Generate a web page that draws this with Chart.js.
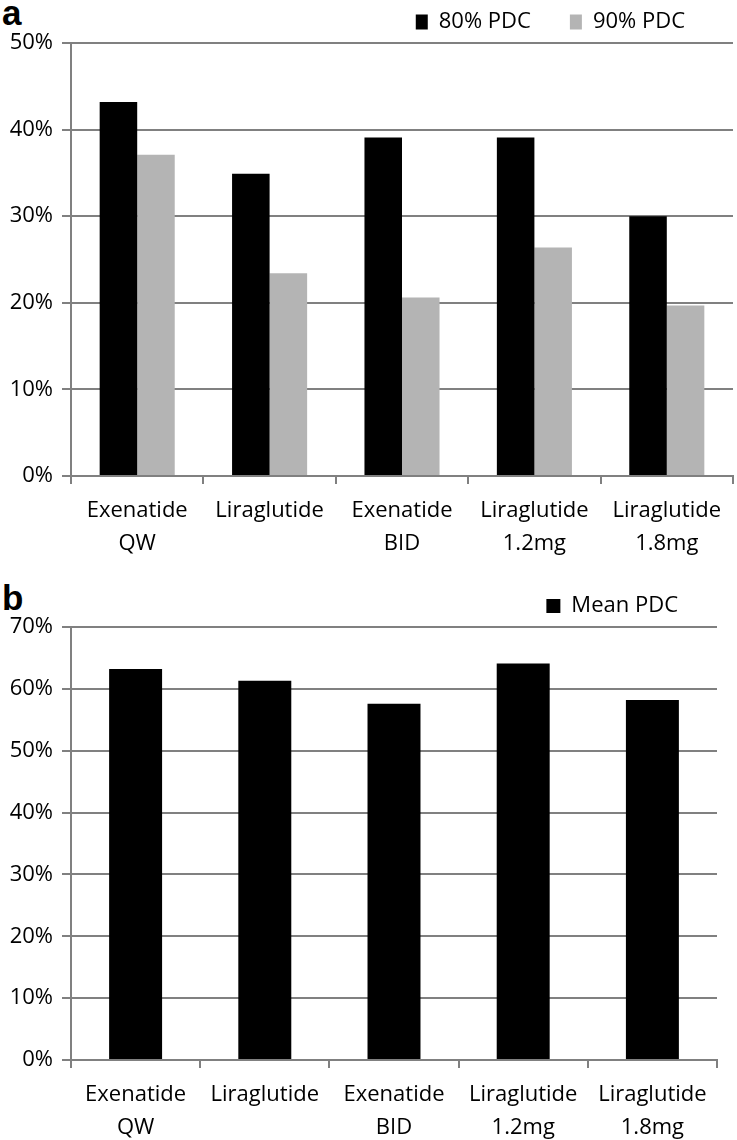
<!DOCTYPE html>
<html>
<head>
<meta charset="utf-8">
<script src="https://cdn.jsdelivr.net/npm/chart.js@4/dist/chart.umd.min.js"></script>
<style>
  html, body { margin: 0; padding: 0; background: #fff; overflow: hidden; }
  body { width: 737px; height: 1140px; position: relative; }
  .panel { position: absolute; left: 0; }
  .letter {
    position: absolute; left: 2px;
    font: bold 35px "Liberation Sans", Arial, sans-serif;
    line-height: 35px; color: #000;
  }
</style>
</head>
<body>
<div class="letter" style="top:-5px">a</div>
<div class="panel" style="top:0"><canvas id="chartA" width="737" height="560"></canvas></div>
<div class="letter" style="top:580px">b</div>
<div class="panel" style="top:560px"><canvas id="chartB" width="737" height="584"></canvas></div>

<script>
// data (percent of patients / mean PDC)
const drugs = [
  ["Exenatide", "QW"],
  "Liraglutide",
  ["Exenatide", "BID"],
  ["Liraglutide", "1.2mg"],
  ["Liraglutide", "1.8mg"]
];
const pdc80 = [43.2, 34.9, 39.1, 39.1, 30.0];
const pdc90 = [37.1, 23.4, 20.6, 26.4, 19.7];
const meanPdc = [63.2, 61.3, 57.6, 64.1, 58.2];

const ticksA = { min: 0, max: 50, step: 10 };
const ticksB = { min: 0, max: 70, step: 10 };

const GRID = "#808080";
const FONT = { family: "'Open Sans', sans-serif", size: 22 };

/* moves the legend sideways after layout */
const legendNudge = {
  id: "legendNudge",
  afterLayout(chart, args, opts) {
    const l = chart.legend;
    if (!l || !opts.dx) return;
    l.left += opts.dx;
    l.right += opts.dx;
  }
};

function axes(t) {
  return {
    x: {
      afterFit(scale) { scale.height = 84; },
      grid: {
        offset: true,
        drawOnChartArea: false,
        drawTicks: true,
        tickLength: 8,
        color: GRID,
        lineWidth: 2
      },
      border: { color: GRID, width: 2 },
      ticks: {
        color: "#000",
        font: Object.assign({ lineHeight: 1.5 }, FONT),
        padding: 10,
        maxRotation: 0,
        autoSkip: false
      }
    },
    y: {
      min: t.min,
      max: t.max,
      afterFit(scale) { scale.width = 71; },
      grid: { color: GRID, lineWidth: 2, tickLength: 9 },
      border: { color: GRID, width: 2 },
      ticks: {
        stepSize: t.step,
        color: "#000",
        font: FONT,
        padding: 9,
        callback: v => v + "%"
      }
    }
  };
}

function legendOpts(bw, bh) {
  return {
    position: "top",
    align: "end",
    labels: {
      color: "#000",
      font: FONT,
      boxWidth: bw,
      boxHeight: bh,
      padding: 39
    }
  };
}

// panel a
new Chart(document.getElementById("chartA"), {
  type: "bar",
  data: {
    labels: drugs,
    datasets: [
      { label: "80% PDC", data: pdc80, backgroundColor: "#000000", borderWidth: 0 },
      { label: "90% PDC", data: pdc90, backgroundColor: "#b4b4b4", borderWidth: 0 }
    ]
  },
  options: {
    responsive: false,
    animation: false,
    devicePixelRatio: 1,
    categoryPercentage: 0.567,
    barPercentage: 1,
    layout: { padding: { top: -28, right: 4, left: 0, bottom: 0 } },
    scales: axes(ticksA),
    plugins: {
      legend: legendOpts(12, 15),
      legendNudge: { dx: -9 },
      tooltip: { enabled: false }
    }
  },
  plugins: [legendNudge]
});

// panel b
new Chart(document.getElementById("chartB"), {
  type: "bar",
  data: {
    labels: drugs,
    datasets: [
      { label: "Mean PDC", data: meanPdc, backgroundColor: "#000000", borderWidth: 0 }
    ]
  },
  options: {
    responsive: false,
    animation: false,
    devicePixelRatio: 1,
    categoryPercentage: 0.41,
    barPercentage: 1,
    layout: { padding: { top: -4, right: 20, left: 0, bottom: 0 } },
    scales: axes(ticksB),
    plugins: {
      legend: legendOpts(14, 14),
      tooltip: { enabled: false }
    }
  }
});
</script>
</body>
</html>
